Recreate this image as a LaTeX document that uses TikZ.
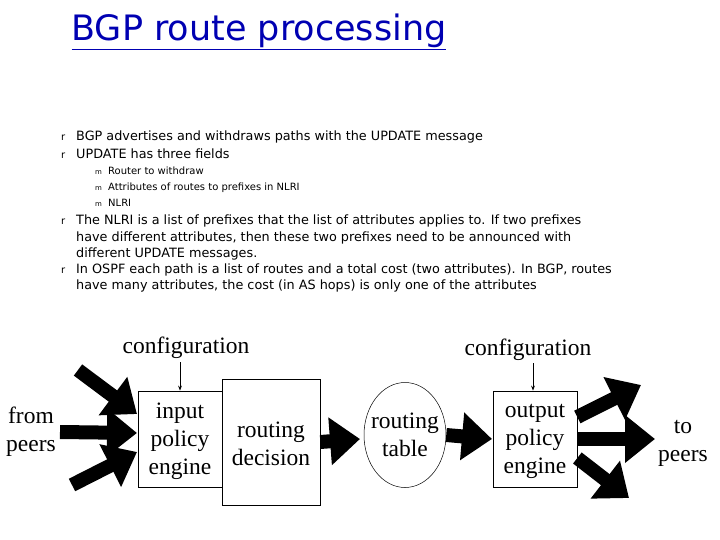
\documentclass[tikz,border=0pt]{standalone}
\usepackage{fontspec}
\setmainfont{Liberation Serif}
\newfontfamily\sans{DejaVu Sans}
\usetikzlibrary{arrows.meta,shapes.geometric}
\begin{document}
\begin{tikzpicture}[x=1pt,y=-1pt,
  box/.style={draw,fill=white,line width=0.7pt},
  lbl/.style={font=\fontsize{23.5}{28}\selectfont,align=center,inner sep=0},
  fat/.style={line width=14pt,-{Triangle[length=30pt,width=46pt]}},
  thin/.style={line width=0.8pt,-{Stealth[length=5pt]}},
  body/.style={font=\sans\fontsize{12.8}{16}\selectfont,anchor=base west,inner sep=0},
  sub/.style={font=\sans\fontsize{10}{16}\selectfont,anchor=base west,inner sep=0}]
\useasboundingbox (0,0) rectangle (720,540);
\node[font=\sans\fontsize{35}{38}\selectfont,text=blue!70!black,inner sep=0] (title) at (259,32) {\underline{BGP route processing}};
\foreach \y/\t in {141/{BGP advertises and withdraws paths with the UPDATE message},
 159/{UPDATE has three fields},
 225/{The NLRI is a list of prefixes that the list of attributes applies to. If two prefixes},
 241/{have different attributes, then these two prefixes need to be announced with},
 257/{different UPDATE messages.},
 273/{In OSPF each path is a list of routes and a total cost (two attributes). In BGP, routes},
 289/{have many attributes, the cost (in AS hops) is only one of the attributes}}
 {\node[body] at (76,\y) {\t};}
\foreach \y in {141,159,225,273}{\node[sub] at (61,\y) {r};}
\foreach \y/\t in {175/{Router to withdraw},191/{Attributes of routes to prefixes in NLRI},207/{NLRI}}
 {\node[sub] at (108,\y) {\t}; \node[sub,font=\sans\fontsize{7}{9}\selectfont] at (95,\y) {m};}
% boxes
\node[box,minimum width=98pt,minimum height=126pt] (rd) at (271,442) {};
\node[box,minimum width=84pt,minimum height=96pt] (ip) at (180,439) {};
\node[lbl] at (180,441) {input\\policy\\engine};
\node[lbl] at (271,444) {routing\\decision};
\node[draw,ellipse,line width=0.5pt,minimum width=82pt,minimum height=105pt] (rt) at (405,435) {};
\node[lbl] at (405,435) {routing\\table};
\node[box,minimum width=84pt,minimum height=96pt] (op) at (535,439) {};
\node[lbl] at (535,441) {output\\policy\\engine};
\node[lbl] (cfg1) at (186,348) {configuration};
\node[lbl] (cfg2) at (528,350) {configuration};
\node[lbl] (from) at (31,432) {from\\peers};
\node[lbl] (to) at (683,443) {to\\peers};
\draw[thin] (180,362) -- (ip.north -| 180,0);
\draw[thin] (533,363) -- (op.north -| 533,0);
% fat arrows
\coordinate (a1) at (78,370); \coordinate (a2) at (60,432); \coordinate (a3) at (72,485);
\draw[fat] (a1) -- (137,414);
\draw[fat] (a2) -- (137,433);
\draw[fat] (a3) -- (137,452);
\draw[fat] (rd.east) -- (360,439);
\draw[fat] (rt.east) -- (492,439);
\coordinate (b1) at (641,385); \coordinate (b2) at (655,439); \coordinate (b3) at (629,498);
\draw[fat] (op.east |- 0,417) -- (b1);
\draw[fat] (op.east) -- (b2);
\draw[fat] (op.east |- 0,458) -- (b3);
\end{tikzpicture}
\end{document}
